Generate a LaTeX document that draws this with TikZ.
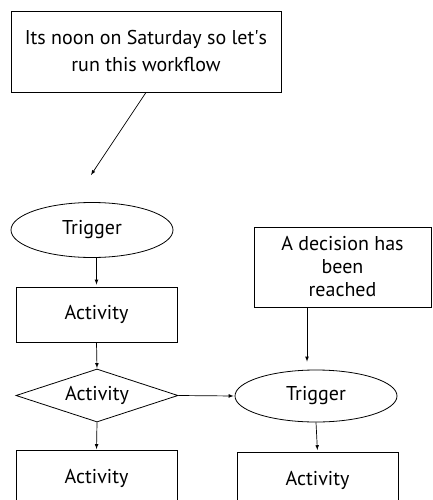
\documentclass[tikz,border=0pt]{standalone}
\usepackage{fontspec}
\setmainfont{PT Sans}
\usetikzlibrary{shapes.geometric}

\tikzset{
  box/.style={draw, line width=0.8pt, rectangle, align=center, inner sep=0pt},
  trigger/.style={draw, line width=0.8pt, ellipse, inner sep=0pt, minimum width=162pt, minimum height=55pt},
  activity/.style={box, minimum width=161pt, minimum height=55pt},
  decision/.style={draw, line width=0.8pt, diamond, aspect=3, inner sep=0pt, minimum width=162pt, minimum height=53pt},
  arr/.style={line width=0.7pt, ->, >=latex, shorten >=2pt}
}

\begin{document}
\begin{tikzpicture}[x=1pt, y=-1pt, font=\fontsize{20}{27}\selectfont]
        \clip (0,0) rectangle (432,500);
        % comment box and where it points
        \node (note1) at (146, 51.5) [box, minimum width=270pt, minimum height=81pt] {Its noon on Saturday so let\textquotesingle s\\run this workflow};
        \coordinate (start) at (91, 175);
        % left branch
        \node (trig1) at (92, 230) [trigger] {Trigger};
        \node (act1) at (96.5, 314.5) [activity] {Activity};
        \node (dec) at (97, 395.5) [decision] {Activity};
        \node (act2) at (96.5, 478) [activity] {Activity};
        % right branch
        \node (note2) at (342.5, 267) [box, minimum width=177pt, minimum height=80pt, font=\fontsize{20}{23}\selectfont] {A decision has\\been\\reached};
        \node (trig2) at (316, 396) [trigger, minimum height=52pt] {Trigger};
        \node (act3) at (317.5, 480) [activity] {Activity};
        % connectors
        \draw [arr, shorten >=0pt] (note1.south) -- (start);
        \draw [arr] (act1.north |- trig1.south) -- (act1.north);
        \draw [arr, shorten >=0.5pt] (act1.south) -- (dec.north);
        \draw [arr, shorten >=1pt] (dec.south) -- (act2.north);
        \draw [arr, shorten >=1pt] (dec.east) -- (trig2.west);
        \draw [arr, shorten >=8pt] ([xshift=-35.5pt]note2.south) -- ([xshift=-35.5pt]note2.south |- trig2.north);
        \draw [arr] (trig2.south) -- (act3.north);
      \end{tikzpicture}
\end{document}
